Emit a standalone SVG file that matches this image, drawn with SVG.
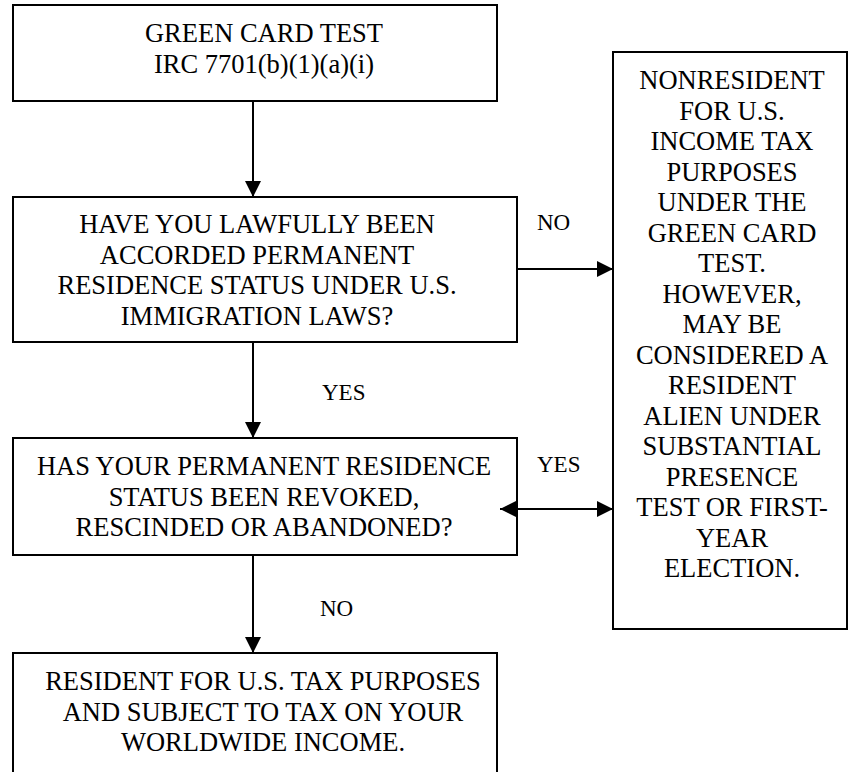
<svg xmlns="http://www.w3.org/2000/svg" width="848" height="772" viewBox="0 0 848 772" font-family="'Liberation Serif', 'Times New Roman', Times, 'DejaVu Serif', serif">
<style>
.box{fill:#fff;stroke:#000;stroke-width:2}
.t{font-family:'Liberation Serif','Times New Roman',Times,'DejaVu Serif',serif;font-size:26.5px;fill:#000;text-anchor:middle}
.lbl{font-family:'Liberation Serif','Times New Roman',Times,'DejaVu Serif',serif;font-size:23px;fill:#000}
.ln{stroke:#000;stroke-width:2;fill:none}
</style>
<defs>
<marker id="ah" viewBox="0 0 16 16" refX="16" refY="8" markerWidth="16" markerHeight="16" markerUnits="userSpaceOnUse" orient="auto-start-reverse">
<path d="M0,0 L16,8 L0,16 Z" fill="#000"/>
</marker>
</defs>
<rect width="848" height="772" fill="#fff"/>
<g id="n1">
<rect class="box" x="13" y="5" width="484" height="96"/>
<text class="t" x="264" y="42">GREEN CARD TEST</text>
<text class="t" x="264" y="72.5">IRC 7701(b)(1)(a)(i)</text>
</g>
<g id="n2">
<rect class="box" x="13" y="197" width="504" height="145"/>
<text class="t" x="257" y="233">HAVE YOU LAWFULLY BEEN</text>
<text class="t" x="257" y="263.5">ACCORDED PERMANENT</text>
<text class="t" x="257" y="294">RESIDENCE STATUS UNDER U.S.</text>
<text class="t" x="257" y="324.5">IMMIGRATION LAWS?</text>
</g>
<g id="n3">
<rect class="box" x="13" y="438" width="504" height="117"/>
<text class="t" x="264" y="475">HAS YOUR PERMANENT RESIDENCE</text>
<text class="t" x="264" y="505.5">STATUS BEEN REVOKED,</text>
<text class="t" x="264" y="536">RESCINDED OR ABANDONED?</text>
</g>
<g id="n4">
<rect class="box" x="13" y="653" width="484" height="140"/>
<text class="t" x="263" y="690">RESIDENT FOR U.S. TAX PURPOSES</text>
<text class="t" x="263" y="720.5">AND SUBJECT TO TAX ON YOUR</text>
<text class="t" x="263" y="751">WORLDWIDE INCOME.</text>
</g>
<g id="n5">
<rect class="box" x="613" y="52" width="234" height="577"/>
<text class="t" x="732" y="89">NONRESIDENT</text>
<text class="t" x="732" y="119.5">FOR U.S.</text>
<text class="t" x="732" y="150">INCOME TAX</text>
<text class="t" x="732" y="180.5">PURPOSES</text>
<text class="t" x="732" y="211">UNDER THE</text>
<text class="t" x="732" y="241.5">GREEN CARD</text>
<text class="t" x="732" y="272">TEST.</text>
<text class="t" x="732" y="302.5">HOWEVER,</text>
<text class="t" x="732" y="333">MAY BE</text>
<text class="t" x="732" y="363.5">CONSIDERED A</text>
<text class="t" x="732" y="394">RESIDENT</text>
<text class="t" x="732" y="424.5">ALIEN UNDER</text>
<text class="t" x="732" y="455">SUBSTANTIAL</text>
<text class="t" x="732" y="485.5">PRESENCE</text>
<text class="t" x="732" y="516">TEST OR FIRST-</text>
<text class="t" x="732" y="546.5">YEAR</text>
<text class="t" x="732" y="577">ELECTION.</text>
</g>
<g id="connectors">
<line class="ln" x1="253" y1="101" x2="253" y2="197" marker-end="url(#ah)"/>
<line class="ln" x1="253" y1="342" x2="253" y2="438" marker-end="url(#ah)"/>
<line class="ln" x1="253" y1="555" x2="253" y2="653" marker-end="url(#ah)"/>
<line class="ln" x1="517" y1="269" x2="613" y2="269" marker-end="url(#ah)"/>
<line class="ln" x1="500" y1="509" x2="613" y2="509" marker-start="url(#ah)" marker-end="url(#ah)"/>
<text class="lbl" x="537" y="230">NO</text>
<text class="lbl" x="322" y="400">YES</text>
<text class="lbl" x="537" y="472">YES</text>
<text class="lbl" x="320" y="616">NO</text>
</g>
</svg>
